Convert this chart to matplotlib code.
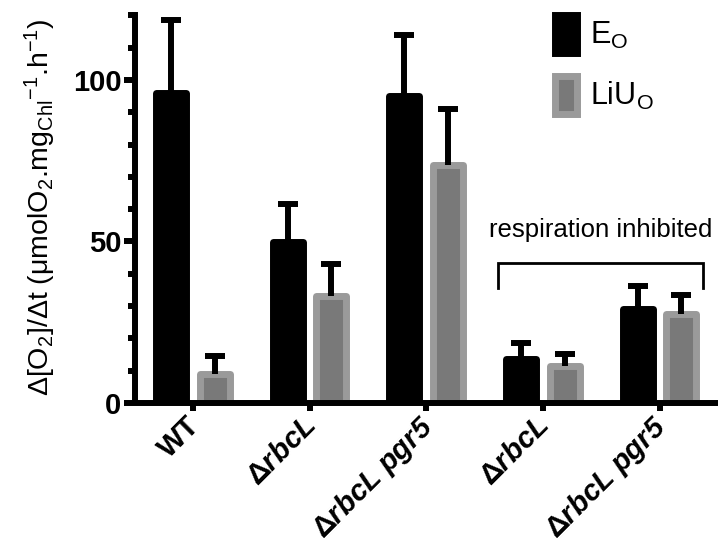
import matplotlib
matplotlib.use("Agg")
import matplotlib.pyplot as plt
import matplotlib.transforms as mtransforms
import numpy as np
from matplotlib.patches import Patch

plt.rcParams['font.family'] = ['Liberation Sans', 'DejaVu Sans']
plt.rcParams['mathtext.fontset'] = 'custom'
plt.rcParams['mathtext.rm'] = 'Liberation Sans'
plt.rcParams['mathtext.it'] = 'Liberation Sans:italic:bold'
plt.rcParams['mathtext.sf'] = 'Liberation Sans:italic:bold'
plt.rcParams['mathtext.bf'] = 'Liberation Sans:bold'
plt.rcParams['mathtext.default'] = 'rm'

categories = ["WT", r"Δ$\mathit{rbcL}$", r"Δ$\mathit{rbcL}$ $\mathit{pgr}\mathsf{5}$",
              r"Δ$\mathit{rbcL}$", r"Δ$\mathit{rbcL}$ $\mathit{pgr}\mathsf{5}$"]
eo_mean = [96, 49.7, 95, 13.7, 29.2]
eo_err = [22.5, 11.8, 19, 4.9, 7.1]
liuo_mean = [9, 33, 73.6, 11.5, 27.6]
liuo_err = [5.6, 10, 17.4, 3.7, 5.9]
series_labels = [r"E$_{O}$", r"LiU$_{O}$"]
bracket_text = "respiration inhibited"

fig = plt.figure(figsize=(7.2, 5.52), dpi=100)
ax = fig.add_axes([0.188, 0.270, 0.809, 0.708])

x = np.arange(len(categories))
w = 0.257
off = 0.188
lw = 5.0

ax.bar(x - off, eo_mean, w, color='black', edgecolor='black', linewidth=lw,
       joinstyle='round', zorder=2)
ax.bar(x + off, liuo_mean, w, color='#797979', edgecolor='#9a9a9a', linewidth=lw,
       joinstyle='round', zorder=2)

ekw = dict(fmt='none', ecolor='black', elinewidth=4.3, capsize=7, capthick=4.3, zorder=3)
e1 = ax.errorbar(x - off, eo_mean, yerr=[np.zeros(5), eo_err], **ekw)
e2 = ax.errorbar(x + off, liuo_mean, yerr=[np.zeros(5), liuo_err], **ekw)
for e in (e1, e2):
    caps = e[1]
    if len(caps) == 2:
        caps[0].set_visible(False)
    for c in caps:
        c.set_solid_capstyle('round')
    for l in e[2]:
        l.set_capstyle('butt')

ax.set_xlim(-0.493, 4.50)
ax.set_ylim(0, 121)
ax.set_yticks([0, 50, 100])
ax.set_yticks(np.arange(0, 121, 10), minor=True)
ax.set_xticks(x)
ax.set_xticklabels(categories, rotation=45, ha='right', va='center_baseline',
                   rotation_mode='anchor', fontsize=21, fontweight='bold')
shift = mtransforms.ScaledTranslation(-11 / 72, -3 / 72, fig.dpi_scale_trans)
for lab in ax.get_xticklabels():
    lab.set_transform(lab.get_transform() + shift)
for lab in ax.get_yticklabels():
    lab.set_fontweight('bold')
ax.tick_params(axis='y', which='major', labelsize=21, length=8, width=4.3, pad=2)
ax.tick_params(axis='y', which='minor', length=5, width=4.3)
ax.tick_params(axis='x', which='major', length=6, width=4.3, pad=6)

for s in ['top', 'right']:
    ax.spines[s].set_visible(False)
for s in ['left', 'bottom']:
    ax.spines[s].set_linewidth(4.3)
    ax.spines[s].set_capstyle('butt')

ax.set_ylabel(r"Δ[O$_2$]/Δt (μmolO$_2$.mg$_{Chl}$$^{-1}$.h$^{-1}$)", fontsize=20.5, labelpad=11)

# bracket
bx0, bx1 = 2.616, 4.37
by_top, by_bot = 43.2, 35.7
ax.plot([bx0, bx0, bx1, bx1], [by_bot, by_top, by_top, by_bot], color='black',
        lw=2.0, solid_joinstyle='miter', zorder=4)
ax.text((bx0 + bx1) / 2, 53.5, bracket_text, ha='center', va='center', fontsize=18.5)

handles = [Patch(facecolor='black', edgecolor='black', linewidth=lw, joinstyle='round'),
           Patch(facecolor='#797979', edgecolor='#9a9a9a', linewidth=lw, joinstyle='round')]
ax.legend(handles, series_labels, loc='upper left', bbox_to_anchor=(0.70, 1.025),
          frameon=False, fontsize=22, handlelength=0.7, handleheight=1.55,
          handletextpad=0.45, labelspacing=0.75, borderaxespad=0)

fig.savefig("out.png", dpi=100)
